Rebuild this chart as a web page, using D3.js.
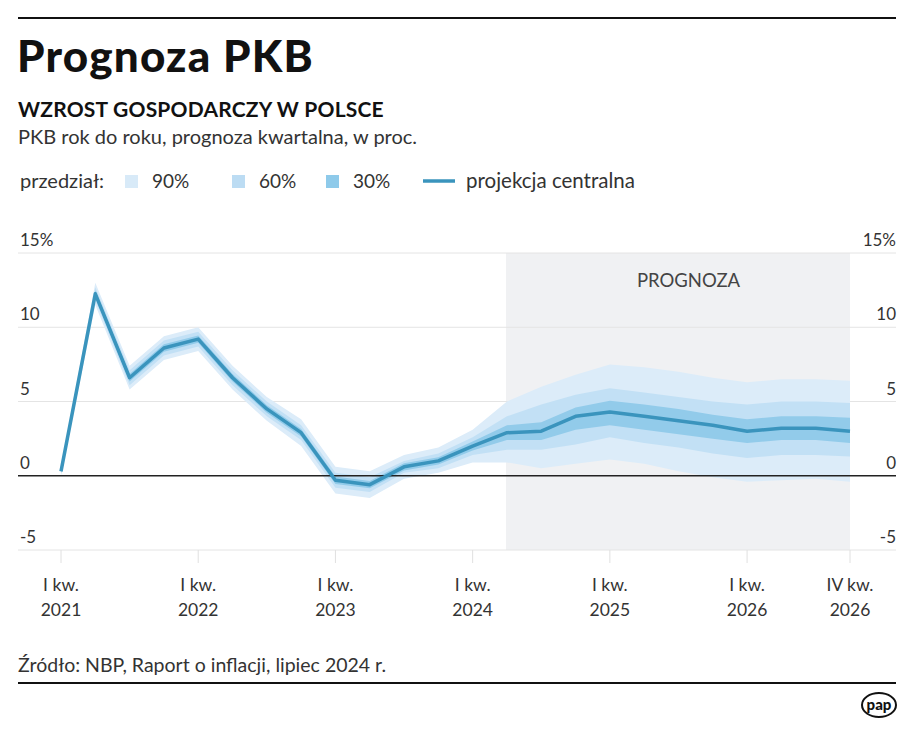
<!DOCTYPE html>
<html><head><meta charset="utf-8">
<script src="https://cdn.jsdelivr.net/npm/d3@7"></script>
<style>
html,body{margin:0;padding:0;background:#fff;}
svg{display:block;font-family:Lato,"Open Sans",sans-serif;}
</style></head>
<body><svg id="c" width="915" height="731"></svg>
<script>
// ---- data ----
const quarters = ["I 2021","II 2021","III 2021","IV 2021","I 2022","II 2022","III 2022","IV 2022",
  "I 2023","II 2023","III 2023","IV 2023","I 2024","II 2024","III 2024","IV 2024",
  "I 2025","II 2025","III 2025","IV 2025","I 2026","II 2026","III 2026","IV 2026"];
const central = [0.3,12.25,6.6,8.6,9.2,6.6,4.5,2.9,-0.3,-0.6,0.6,1.0,2.0,2.9,3.0,4.0,4.3,4.0,3.7,3.4,3.0,3.2,3.2,3.0];
const lo90 = [0.0,11.5,5.8,7.8,8.4,5.8,3.7,2.0,-1.2,-1.5,-0.2,0.2,0.9,0.9,0.5,0.8,1.1,0.8,0.3,-0.1,-0.4,-0.3,-0.2,-0.4];
const hi90 = [0.6,13.0,7.4,9.4,10.0,7.4,5.3,3.8,0.6,0.3,1.4,1.9,3.1,5.0,6.0,6.8,7.5,7.3,7.0,6.6,6.3,6.5,6.5,6.4];
const lo60 = [0.1,11.8,6.1,8.1,8.7,6.1,4.0,2.4,-0.8,-1.1,0.2,0.5,1.4,1.75,1.75,2.1,2.6,2.2,1.9,1.5,1.2,1.4,1.4,1.3];
const hi60 = [0.5,12.7,7.1,9.1,9.7,7.1,5.0,3.4,0.2,-0.1,1.0,1.5,2.6,4.0,4.8,5.45,5.9,5.6,5.3,5.0,4.8,5.0,5.0,4.9];
const lo30 = [0.2,12.0,6.35,8.35,8.95,6.35,4.25,2.65,-0.55,-0.85,0.35,0.75,1.7,2.4,2.4,3.1,3.4,3.1,2.8,2.5,2.2,2.4,2.4,2.2];
const hi30 = [0.4,12.5,6.85,8.85,9.45,6.85,4.75,3.15,-0.05,-0.35,0.85,1.25,2.3,3.4,3.6,4.6,5.05,4.8,4.5,4.1,3.8,4.0,4.0,3.9];
const yTicks = [15,10,5,0,-5];
const yTickLabels = ["15%","10","5","0","-5"];
const xTickIdx = [0,4,8,12,16,20,23];
const xTickLabels = [["I kw.","2021"],["I kw.","2022"],["I kw.","2023"],["I kw.","2024"],["I kw.","2025"],["I kw.","2026"],["IV kw.","2026"]];
const forecastStart = 13;
const legendItems = [{label:"90%",c:"#d8eaf8"},{label:"60%",c:"#bcdcf3"},{label:"30%",c:"#8ecaea"}];

// ---- chart ----
const svg = d3.select("#c");
const x = d3.scaleLinear().domain([0,23]).range([61,850]);
const y = d3.scaleLinear().domain([-5,15]).range([550,253]);

svg.append("line").attr("x1",18).attr("x2",896).attr("y1",18).attr("y2",18).attr("stroke","#111").attr("stroke-width",2);
svg.append("text").attr("x",17).attr("y",72).attr("font-size",44).attr("font-weight",900).attr("letter-spacing",1.2).attr("fill","#111").text("Prognoza PKB");
svg.append("text").attr("x",18).attr("y",117).attr("font-size",21).attr("font-weight",700).attr("letter-spacing",0.2).attr("fill","#111").text("WZROST GOSPODARCZY W POLSCE");
svg.append("text").attr("x",18).attr("y",144).attr("font-size",20).attr("fill","#333").text("PKB rok do roku, prognoza kwartalna, w proc.");

// legend
const lg = svg.append("g").attr("font-size",19).attr("fill","#333");
lg.append("text").attr("x",20).attr("y",188).attr("font-size",20).text("przedział:");
const lx = [125,232,326];
legendItems.forEach((d,i)=>{
  lg.append("rect").attr("x",lx[i]).attr("y",175).attr("width",13).attr("height",13).attr("fill",d.c);
  lg.append("text").attr("x",lx[i]+27).attr("y",188).text(d.label);
});
lg.append("line").attr("x1",423).attr("x2",455).attr("y1",181).attr("y2",181).attr("stroke","#3a94bd").attr("stroke-width",3.5);
lg.append("text").attr("x",466).attr("y",188).attr("font-size",20.5).text("projekcja centralna");

// forecast background
svg.append("rect").attr("x",x(forecastStart)-1).attr("y",y(15)).attr("width",x(23)-x(forecastStart)+1).attr("height",y(-5)-y(15)).attr("fill","#f0f1f3");
svg.append("text").attr("x",(x(forecastStart)+x(23))/2+10).attr("y",287).attr("text-anchor","middle").attr("font-size",18.5).attr("fill","#444").text("PROGNOZA");

// gridlines
yTicks.forEach((t,i)=>{
  if(t!==0) svg.append("line").attr("x1",18).attr("x2",896).attr("y1",y(t)).attr("y2",y(t)).attr("stroke","#e4e4e4").attr("stroke-width",1);
  svg.append("text").attr("x",20).attr("y",y(t)-7).attr("font-size",17).attr("fill","#333").text(yTickLabels[i]);
  svg.append("text").attr("x",896).attr("y",y(t)-7).attr("text-anchor","end").attr("font-size",17).attr("fill","#333").text(yTickLabels[i]);
});

// bands
const idx = d3.range(central.length);
const band = (lo,hi)=>d3.area().x(i=>x(i)).y0(i=>y(lo[i])).y1(i=>y(hi[i]));
svg.append("path").datum(idx).attr("d",band(lo90,hi90)).attr("fill","#dcecf9");
svg.append("path").datum(idx).attr("d",band(lo60,hi60)).attr("fill","#c2e0f5");
svg.append("path").datum(idx).attr("d",band(lo30,hi30)).attr("fill","#92cbea");

// zero line
svg.append("line").attr("x1",18).attr("x2",896).attr("y1",y(0)).attr("y2",y(0)).attr("stroke","#222").attr("stroke-width",1.5);

// central line
svg.append("path").datum(idx).attr("d",d3.line().x(i=>x(i)).y(i=>y(central[i])))
  .attr("fill","none").attr("stroke","#3a94bd").attr("stroke-width",3.5).attr("stroke-linejoin","round");

// x ticks
xTickIdx.forEach((q,k)=>{
  svg.append("line").attr("x1",x(q)).attr("x2",x(q)).attr("y1",550).attr("y2",563).attr("stroke","#e0e0e0");
  svg.append("text").attr("x",x(q)).attr("y",591).attr("text-anchor","middle").attr("font-size",17.5).attr("fill","#333").text(xTickLabels[k][0]);
  svg.append("text").attr("x",x(q)).attr("y",616).attr("text-anchor","middle").attr("font-size",17.5).attr("fill","#333").text(xTickLabels[k][1]);
});

// source
svg.append("text").attr("x",18).attr("y",672).attr("font-size",19.5).attr("fill","#333").text("Źródło: NBP, Raport o inflacji, lipiec 2024 r.");
svg.append("line").attr("x1",18).attr("x2",896).attr("y1",683).attr("y2",683).attr("stroke","#111").attr("stroke-width",2);

// logo
const lgo = svg.append("g").attr("transform","translate(879,705)");
lgo.append("ellipse").attr("rx",17).attr("ry",12).attr("fill","#fff").attr("stroke","#111").attr("stroke-width",2);
lgo.append("text").attr("y",5).attr("text-anchor","middle").attr("font-size",15).attr("font-weight",900).attr("fill","#111").text("pap");
</script></body></html>
